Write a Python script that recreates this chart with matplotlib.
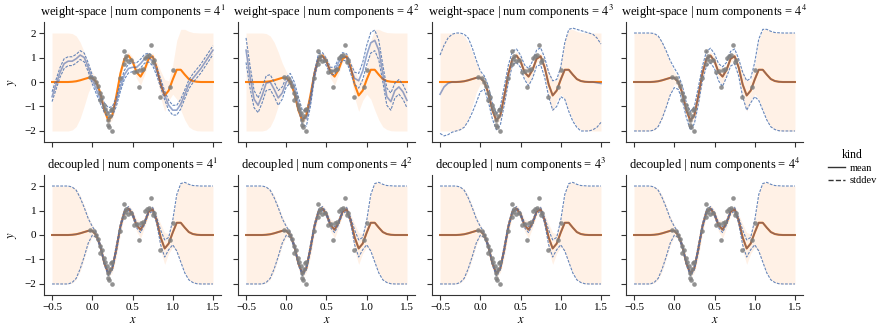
import matplotlib
matplotlib.use("Agg")
import matplotlib.pyplot as plt
import numpy as np
from matplotlib.lines import Line2D

plt.rcParams['font.family'] = ['Liberation Serif', 'DejaVu Serif']
plt.rcParams['mathtext.fontset'] = 'stix'

# input grid
xs = [-0.5, -0.45, -0.4, -0.35, -0.3, -0.25, -0.2, -0.15, -0.1, -0.05,
      0.0, 0.05, 0.1, 0.15, 0.2, 0.25, 0.3, 0.35, 0.4, 0.45,
      0.5, 0.55, 0.6, 0.65, 0.7, 0.75, 0.8, 0.85, 0.9, 0.95,
      1.0, 1.05, 1.1, 1.15, 1.2, 1.25, 1.3, 1.35, 1.4, 1.45, 1.5]

# observations
obs_x = [-0.03, 0.02, 0.05, 0.07, 0.09, 0.10, 0.12, 0.14, 0.16, 0.18,
         0.19, 0.20, 0.21, 0.22, 0.23, 0.24, 0.25, 0.34, 0.39, 0.40,
         0.41, 0.42, 0.45, 0.48, 0.52, 0.56, 0.58, 0.60, 0.63, 0.65,
         0.68, 0.70, 0.73, 0.75, 0.77, 0.84, 0.97, 1.00]
obs_y = [0.20, 0.15, 0.00, -0.15, -0.45, -0.75, -0.60, -0.95, -1.10, -1.25,
         -1.55, -1.75, -1.85, -1.40, -1.15, -2.00, -1.10, 0.15, 0.75, 1.25,
         0.95, 1.05, 0.85, 0.90, 0.40, 0.45, -0.20, 0.50, 0.55, 1.00,
         1.05, 1.10, 1.50, 0.80, 0.90, -0.60, -0.22, 0.50]

# exact posterior
exact_mean = [0, 0, 0, 0, 0, 0.01, 0.03, 0.07, 0.12, 0.17,
              0.17, 0.0, -0.45, -1.15, -1.58, -1.35, -0.55, 0.35, 0.95, 1.08,
              0.85, 0.4, 0.22, 0.5, 0.95, 1.05, 0.6, -0.1, -0.55, -0.35,
              0.1, 0.5, 0.5, 0.3, 0.12, 0.04, 0.01, 0, 0, 0, 0]
exact_band = [2, 2, 2, 2, 2, 1.97, 1.85, 1.55, 1.1, 0.6,
              0.25, 0.15, 0.15, 0.15, 0.15, 0.18, 0.35, 0.3, 0.15, 0.15,
              0.18, 0.25, 0.35, 0.2, 0.15, 0.15, 0.25, 0.55, 0.65, 0.4,
              0.6, 1.2, 1.65, 1.85, 1.95, 1.98, 2, 2, 2, 2, 2]

# weight-space approximations
ws1_mean = [-0.6, -0.1, 0.4, 0.75, 0.85, 0.85, 0.95, 1.1, 1.0, 0.6,
            0.1, -0.3, -0.7, -1.05, -1.25, -1.2, -0.8, -0.2, 0.3, 0.55,
            0.6, 0.6, 0.75, 0.95, 1.0, 0.85, 0.45, -0.05, -0.55, -0.95,
            -1.15, -1.15, -0.9, -0.5, -0.1, 0.15, 0.35, 0.55, 0.8, 1.05, 1.3]
ws1_std = [0.2, 0.2, 0.2, 0.2, 0.18, 0.18, 0.18, 0.18, 0.18, 0.18,
           0.18, 0.18, 0.18, 0.2, 0.2, 0.2, 0.18, 0.18, 0.18, 0.18,
           0.18, 0.18, 0.18, 0.18, 0.18, 0.18, 0.18, 0.18, 0.18, 0.2,
           0.2, 0.2, 0.2, 0.18, 0.18, 0.18, 0.18, 0.18, 0.18, 0.18, 0.18]

ws2_mean = [1.3, 0.2, -0.7, -0.95, -0.55, -0.05, 0.0, -0.3, -0.65, -0.45,
            0.0, 0.15, -0.2, -0.85, -1.45, -1.5, -0.8, 0.3, 1.0, 1.05,
            0.8, 0.45, 0.45, 0.8, 1.05, 1.0, 0.55, 0.15, 0.05, 0.45,
            1.1, 1.6, 1.7, 1.3, 0.35, -0.6, -0.8, -0.35, -0.2, -0.4, -0.75]
ws2_std = [0.5, 0.45, 0.35, 0.3, 0.3, 0.3, 0.3, 0.3, 0.3, 0.25,
           0.2, 0.2, 0.2, 0.25, 0.3, 0.3, 0.2, 0.15, 0.15, 0.15,
           0.15, 0.15, 0.15, 0.15, 0.15, 0.15, 0.2, 0.25, 0.3, 0.35,
           0.4, 0.42, 0.42, 0.4, 0.35, 0.35, 0.35, 0.3, 0.3, 0.3, 0.3]

ws3_mean = [-0.5, -0.2, -0.05, 0.0, 0.0, 0.01, 0.03, 0.07, 0.12, 0.17,
            0.17, 0.0, -0.45, -1.15, -1.58, -1.35, -0.55, 0.35, 0.95, 1.08,
            0.85, 0.4, 0.22, 0.5, 0.95, 1.05, 0.6, -0.1, -0.55, -0.35,
            0.1, 0.5, 0.5, 0.3, 0.12, 0.04, 0.01, 0, 0, -0.03, -0.06]
ws3_upper = [1.1, 1.5, 1.8, 1.95, 2.0, 2.0, 1.95, 1.8, 1.4, 0.9,
             0.45, 0.25, -0.15, -0.85, -1.3, -1.0, -0.15, 0.7, 1.25, 1.35,
             1.1, 0.7, 0.55, 0.85, 1.3, 1.4, 1.0, 0.4, 0.05, 0.1,
             0.6, 1.6, 2.15, 2.2, 2.15, 2.1, 2.05, 2.0, 1.95, 1.8, 1.55]
ws3_lower = [-2.1, -2.2, -2.15, -2.05, -2.0, -1.95, -1.85, -1.6, -1.25, -0.85,
             -0.4, -0.3, -0.8, -1.5, -1.95, -1.75, -0.9, 0.0, 0.7, 0.8,
             0.6, 0.1, -0.15, 0.15, 0.65, 0.7, 0.2, -0.6, -1.15, -1.0,
             -0.6, -0.7, -1.2, -1.6, -1.85, -2.0, -2.0, -2.0, -1.95, -1.85, -1.65]

ws4_std = [2, 2, 2, 2, 2, 1.97, 1.85, 1.55, 1.15, 0.7,
           0.4, 0.3, 0.3, 0.3, 0.38, 0.35, 0.35, 0.3, 0.3, 0.3,
           0.3, 0.35, 0.4, 0.3, 0.3, 0.3, 0.35, 0.5, 0.6, 0.5,
           0.7, 1.25, 1.65, 1.85, 1.95, 1.98, 2, 2, 2, 2, 2]

# decoupled approximations (all four look alike)
dec_std = [2, 2, 2, 2, 2, 1.95, 1.8, 1.45, 1.0, 0.5,
           0.18, 0.1, 0.08, 0.08, 0.08, 0.08, 0.15, 0.12, 0.08, 0.08,
           0.08, 0.1, 0.12, 0.08, 0.08, 0.08, 0.12, 0.3, 0.35, 0.25,
           0.5, 1.15, 1.6, 1.85, 1.95, 1.98, 2, 2, 2, 2, 2]

x = np.array(xs)
em = np.array(exact_mean)
eb = np.array(exact_band)


def sym(mean, std):
    m = np.array(mean)
    s = np.array(std)
    return m, m - s, m + s


approx = {
    ('weight-space', 1): sym(ws1_mean, ws1_std),
    ('weight-space', 2): sym(ws2_mean, ws2_std),
    ('weight-space', 3): (np.array(ws3_mean), np.array(ws3_lower), np.array(ws3_upper)),
    ('weight-space', 4): sym(exact_mean, ws4_std),
}
for k in range(1, 5):
    approx[('decoupled', k)] = sym(exact_mean, dec_std)

ORANGE = '#ff7f0e'
BLUE = '#2c4f9e'
DASH_BLUE = '#4c72b0'

W, H = 881, 334
fig = plt.figure(figsize=(W / 100, H / 100), dpi=100)

lefts = [44, 238, 432, 626]
tops = [22, 175]
aw, ah = 177, 120

for r, method in enumerate(['weight-space', 'decoupled']):
    for c in range(4):
        ax = fig.add_axes([lefts[c] / W, 1 - (tops[r] + ah) / H, aw / W, ah / H])
        mean, lo, hi = approx[(method, c + 1)]

        ax.fill_between(x, em - eb, em + eb, color=ORANGE, alpha=0.1, lw=0)
        ax.plot(x, em, color=ORANGE, lw=1.5, zorder=2)
        ax.plot(x, mean, color=BLUE, lw=1.2, alpha=0.5, zorder=3)
        ax.plot(x, lo, color=DASH_BLUE, lw=0.8, ls=(0, (2.5, 1.2)), alpha=0.85, zorder=3)
        ax.plot(x, hi, color=DASH_BLUE, lw=0.8, ls=(0, (2.5, 1.2)), alpha=0.85, zorder=3)
        ax.scatter(obs_x, obs_y, s=11, color='#7f7f7f', alpha=0.85, lw=0, zorder=5)

        ax.set_xlim(-0.6, 1.6)
        ax.set_ylim(-2.45, 2.45)
        ax.set_xticks([-0.5, 0.0, 0.5, 1.0, 1.5])
        ax.set_yticks([-2, -1, 0, 1, 2])
        ax.set_title(method + r' | num components = $4^{%d}$' % (c + 1),
                     fontsize=9, pad=4)
        for s in ['top', 'right']:
            ax.spines[s].set_visible(False)
        for s in ['left', 'bottom']:
            ax.spines[s].set_linewidth(0.8)
            ax.spines[s].set_color('#333333')
        ax.tick_params(direction='out', length=3.5, width=0.8, labelsize=8,
                       color='#333333', pad=2)
        if r == 0:
            ax.tick_params(labelbottom=False)
        else:
            ax.set_xlabel(r'$x$', fontsize=9, labelpad=2)
        if c == 0:
            ax.set_ylabel(r'$y$', fontsize=9, labelpad=4)
        else:
            ax.tick_params(labelleft=False)

handles = [Line2D([], [], color='#333333', lw=1.0, ls='-'),
           Line2D([], [], color='#333333', lw=1.0, ls='--')]
fig.legend(handles, ['mean', 'stddev'], title='kind', loc='center left',
           bbox_to_anchor=(0.935, 0.5), frameon=False, fontsize=7.5,
           title_fontsize=8.5, handlelength=1.6, handletextpad=0.5,
           borderaxespad=0, labelspacing=0.3)

fig.savefig('out.png', dpi=100)
